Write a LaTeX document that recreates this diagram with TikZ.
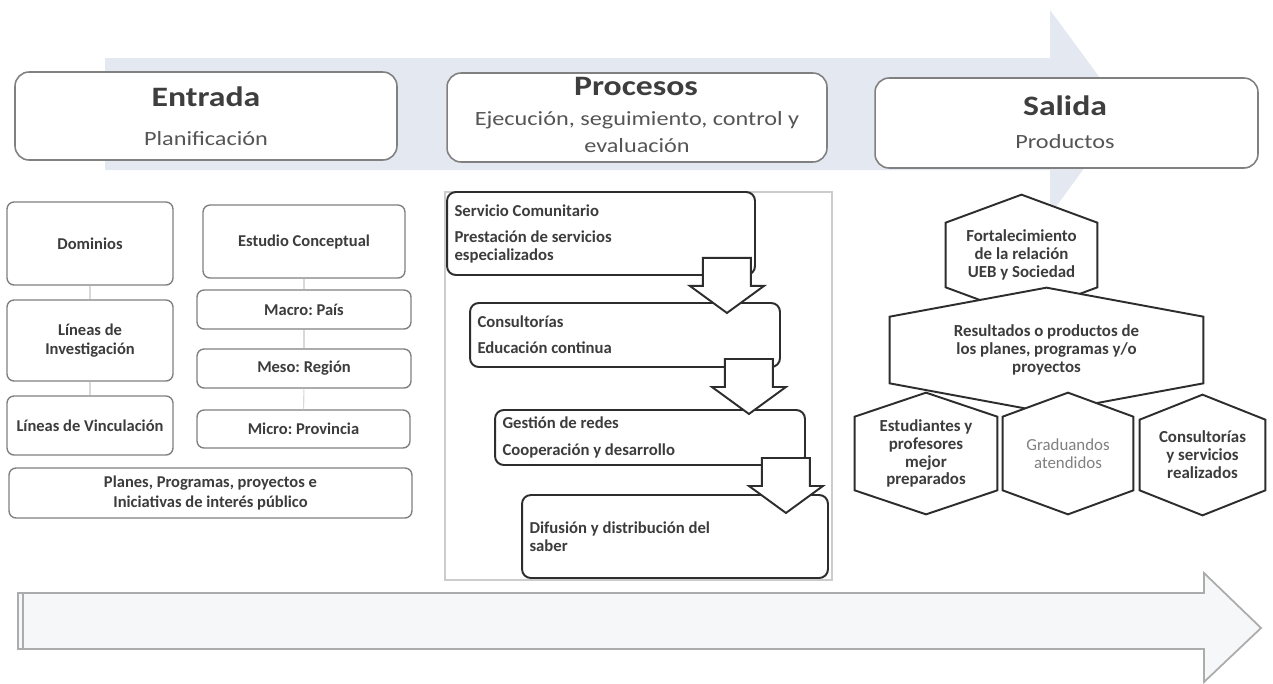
\documentclass[tikz,border=0pt]{standalone}
\usepackage{fontspec}
\setmainfont{Carlito}
\newfontfamily\headfont[FakeStretch=1.2]{Carlito}
\usepackage{xcolor}
\usetikzlibrary{calc,positioning}
\frenchspacing

\definecolor{bandblue}{RGB}{228,232,240}
\definecolor{boxline}{RGB}{128,128,128}
\definecolor{darkline}{RGB}{45,45,45}
\definecolor{titlegray}{RGB}{62,62,62}
\definecolor{subgray}{RGB}{85,85,85}
\definecolor{txtgray}{RGB}{60,60,60}
\definecolor{lightfill}{RGB}{246,247,249}

% block arrow below a process box: #1 box, #2 x shift from its east side, #3 y shift from its south side
\newcommand{\flowarrow}[3]{%
  \draw[flowarr] ($(#1.south east)+(#2,#3)$) -- ++(24,0) -- ++(0,28) -- ++(13,0)
    -- ++(-37,27) -- ++(-37,-27) -- ++(13,0) -- ++(0,-28) -- cycle;}
% hexagon round a holder node: #1 node, #2 height of the top and bottom points
\newcommand{\hexframe}[2]{%
  \draw[hexline] (#1.north west) -- ($(#1.north)+(0,-#2)$) -- (#1.north east)
    -- (#1.south east) -- ($(#1.south)+(0,#2)$) -- (#1.south west) -- cycle;}

\begin{document}
\begin{tikzpicture}[x=0.02cm, y=-0.02cm,
  headbox/.style={draw=boxline, line width=0.9pt, rounded corners=8pt, fill=white, inner sep=0pt},
  headtitle/.style={anchor=base, text=titlegray, font=\headfont\bfseries\fontsize{16}{19}\selectfont},
  headsub/.style={anchor=base, text=subgray, font=\headfont\fontsize{11.5}{14}\selectfont},
  planbox/.style={draw=boxline, line width=0.8pt, rounded corners=4pt, fill=white, align=flush center,
    text=txtgray, font=\bfseries\fontsize{9.4}{10.8}\selectfont, inner sep=0pt},
  link/.style={draw=gray!30, line width=0.6pt},
  procbox/.style={draw=darkline, line width=1.1pt, rounded corners=5pt, fill=white, align=flush left,
    text=txtgray, font=\bfseries\fontsize{9.5}{10}\selectfont, inner xsep=0.15cm, inner ysep=0pt},
  flowarr/.style={draw=darkline, line width=1.1pt, fill=white, line join=miter},
  holder/.style={inner sep=0pt},
  hexline/.style={draw=darkline, line width=1.1pt, fill=white, line join=miter},
  hexnode/.style={inner sep=0pt, align=flush center, text=txtgray, font=\bfseries\fontsize{9.6}{10.2}\selectfont},
  band/.style={fill=bandblue},
  timeline/.style={draw=gray!65, line width=1pt, fill=lightfill, line join=miter}
]

% Page
\useasboundingbox[fill=white] (0,0) rectangle (1273,683);

% Background arrow behind the headers
\fill[band] (105,58) -- (1050,58) -- (1050,10) -- (1125,112) -- (1050,215) -- (1050,170) -- (105,170) -- cycle;

% Headers
\node[headbox, minimum width=7.64cm, minimum height=1.76cm] (entrada) at (206,116) {};
\node[headtitle] (entradaT) at (206,106) {Entrada};
\node[headsub] (entradaS) at (206,145) {Planificación};

\node[headbox, minimum width=7.6cm, minimum height=1.78cm] (procesos) at (637,117.5) {};
\node[headtitle] (procesosT) at (636,95) {Procesos};
\node[headsub] (procesosS) at (637,125) {Ejecución, seguimiento, control y};
\node[headsub] (procesosS2) at (637,152) {evaluación};

\node[headbox, minimum width=7.66cm, minimum height=1.8cm] (salida) at (1066.5,123) {};
\node[headtitle] (salidaT) at (1065,115) {Salida};
\node[headsub] (salidaS) at (1065,148) {Productos};

% Planning boxes
\node[planbox, minimum width=3.32cm, minimum height=1.66cm] (dom) at (90,243.5) {Dominios};
\node[planbox, minimum width=3.32cm, minimum height=1.62cm] (linInv) at (90,340.5) {Líneas de\\Investigación};
\node[planbox, minimum width=3.32cm, minimum height=1.18cm] (linVin) at (90,425.5) {Líneas de Vinculación};
\node[planbox, minimum width=4.04cm, minimum height=1.46cm] (estudio) at (304,241.5) {Estudio Conceptual};
\node[planbox, minimum width=4.28cm, minimum height=0.78cm] (macro) at (304,309.5) {Macro: País};
\node[planbox, minimum width=4.28cm, minimum height=0.78cm] (meso) at (304,368.5) {Meso: Región};
\node[planbox, minimum width=4.26cm, minimum height=0.76cm] (micro) at (303.5,429) {Micro: Provincia};
\node[planbox, minimum width=8.06cm, minimum height=1cm, font=\bfseries\fontsize{9.4}{11.3}\selectfont] (planes) at (210.5,493) {Planes, Programas, proyectos e\\Iniciativas de interés público};

\draw[link] (dom) -- (linInv);
\draw[link] (linInv) -- (linVin);
\draw[link] (estudio) -- (macro);
\draw[link] (macro) -- (meso);
\draw[link] (meso) -- (micro);

% Process frame
\draw[gray!40, line width=0.6pt] (445,192) rectangle (832,580);

% Process boxes
\node[procbox, text width=5.86cm, minimum height=1.66cm] (p1) at (601,233.5) {Servicio Comunitario\\[5pt]Prestación de servicios\\especializados};
\node[procbox, text width=5.9cm, minimum height=1.28cm] (p2) at (625,335) {Consultorías\\[5pt]Educación continua};
\node[procbox, text width=5.9cm, minimum height=1.1cm] (p3) at (650,437.5) {Gestión de redes\\[5pt]Cooperación y desarrollo};
\node[procbox, text width=5.82cm, minimum height=1.66cm] (p4) at (675,536.5) {Difusión y distribución del\\saber};

\flowarrow{p1}{-29}{-18}
\flowarrow{p2}{-32}{-9}
\flowarrow{p3}{-20}{-8}

% Products
\node[holder, minimum width=3.02cm, minimum height=1.28cm] (hx1) at (1021.5,255) {};
\hexframe{hx1}{28}
\node[hexnode] (hx1txt) at (hx1) {Fortalecimiento\\de la relación\\UEB y Sociedad};

\node[holder, minimum width=6.26cm, minimum height=1.32cm] (hx2) at (1046.5,350) {};
\hexframe{hx2}{29}
\node[hexnode] (hx2txt) at (hx2) {Resultados o productos de\\los planes, programas y/o\\proyectos};

\node[holder, minimum width=2.84cm, minimum height=1.46cm] (hx3) at (926,453.5) {};
\hexframe{hx3}{24}
\node[hexnode] (hx3txt) at (hx3) {Estudiantes y\\profesores\\mejor\\preparados};

\node[holder, minimum width=2.6cm, minimum height=1.46cm] (hx4) at (1068,453.5) {};
\hexframe{hx4}{24}
\node[hexnode, font=\fontsize{9.6}{10.2}\selectfont, text=gray] (hx4txt) at (hx4) {Graduandos\\atendidos};

\node[holder, minimum width=2.5cm, minimum height=1.4cm] (hx5) at (1202.5,455) {};
\hexframe{hx5}{25}
\node[hexnode] (hx5txt) at (hx5) {Consultorías\\y servicios\\realizados};

% Bottom arrow
\draw[timeline] (18,593) -- (1204,593) -- (1204,573) -- (1261,628) -- (1204,682) -- (1204,649) -- (18,649) -- cycle;
\draw[gray!65, line width=0.8pt] (23,593) -- (23,649);

\end{tikzpicture}
\end{document}
